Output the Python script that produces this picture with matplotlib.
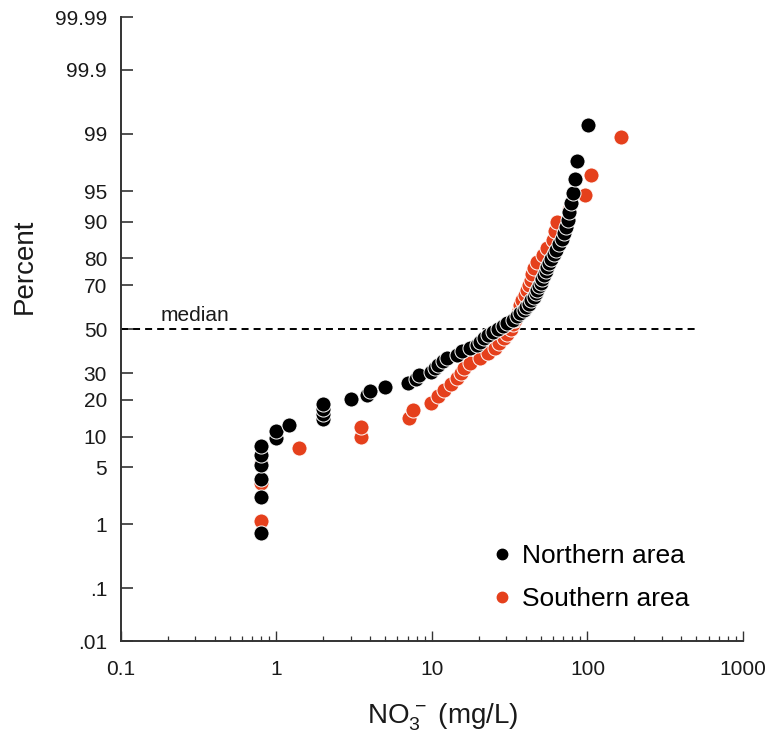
import numpy as np
import matplotlib
matplotlib.use("Agg")
import matplotlib.pyplot as plt
from matplotlib.lines import Line2D
from statistics import NormalDist

plt.rcParams['font.family'] = ['Liberation Sans', 'DejaVu Sans']
plt.rcParams['mathtext.fontset'] = 'custom'
plt.rcParams['mathtext.rm'] = 'Liberation Sans'
plt.rcParams['mathtext.it'] = 'Liberation Sans:italic'
plt.rcParams['mathtext.bf'] = 'Liberation Sans:bold'

# ---------------- data ----------------
north_x = [0.8, 0.8, 0.8, 0.8, 0.8, 0.8, 1.0, 1.0, 1.2, 2.0, 2.0, 2.0, 2.0,
           3.0, 3.8, 4.0, 5.0, 7.0, 7.9, 8.2, 9.8, 10.5, 11.0, 11.8, 12.5,
           14.5, 15.5, 17.5, 19.5, 20.5, 21.5, 23.0, 24.5, 26.5, 28.5, 30.5,
           33.0, 35.0, 37.0, 39.0, 40.5, 42.0, 43.5, 45.0, 46.5, 47.5, 48.5,
           50.0, 51.0, 52.5, 54.0, 55.0, 56.5, 58.5, 60.5, 63.0, 66.0, 68.5,
           70.5, 72.5, 74.5, 76.5, 78.0, 80.5, 83.5, 86.0, 101.0]
north_pct = [0.75, 2.24, 3.73, 5.22, 6.72, 8.21, 9.70, 11.19, 12.69, 14.18,
             15.67, 17.16, 18.66, 20.15, 21.64, 23.13, 24.63, 26.12, 27.61,
             29.10, 30.60, 32.09, 33.58, 35.07, 36.57, 38.06, 39.55, 41.04,
             42.54, 44.03, 45.52, 47.01, 48.51, 50.00, 51.49, 52.99, 54.48,
             55.97, 57.46, 58.96, 60.45, 61.94, 63.43, 64.93, 66.42, 67.91,
             69.40, 70.90, 72.39, 73.88, 75.37, 76.87, 78.36, 79.85, 81.34,
             82.84, 84.33, 85.82, 87.31, 88.81, 90.30, 91.79, 93.28, 94.78,
             96.27, 97.76, 99.25]

south_x = [0.8, 0.8, 0.8, 1.4, 3.5, 3.5, 7.1, 7.6, 9.8, 11.0,
           12.0, 13.3, 14.5, 15.3, 16.0, 17.5, 20.5, 23.0, 25.5, 27.0,
           29.0, 30.5, 32.0, 33.0, 34.0, 35.0, 36.0, 37.0, 38.0, 39.5,
           41.0, 42.0, 43.0, 44.0, 45.0, 47.0, 52.0, 55.0, 60.0, 62.0,
           64.0, 76.0, 96.5, 105.0, 165.0]
south_pct = [1.11, 3.33, 5.56, 7.78, 10.00, 12.22, 14.44, 16.67, 18.89, 21.11,
             23.33, 25.56, 27.78, 30.00, 32.22, 34.44, 36.67, 38.89, 41.11,
             43.33, 45.56, 47.78, 50.00, 52.22, 54.44, 56.67, 58.89, 61.11,
             63.33, 65.56, 67.78, 70.00, 72.22, 74.44, 76.67, 78.89, 81.11,
             83.33, 85.56, 87.78, 90.00, 92.22, 94.44, 96.67, 98.89]

y_ticks = [0.01, 0.1, 1, 5, 10, 20, 30, 50, 70, 80, 90, 95, 99, 99.9, 99.99]
y_ticklabels = ['.01', '.1', '1', '5', '10', '20', '30', '50', '70', '80',
                '90', '95', '99', '99.9', '99.99']
x_ticks = [0.1, 1, 10, 100, 1000]
x_ticklabels = ['0.1', '1', '10', '100', '1000']
series_labels = ['Northern area', 'Southern area']
median_pct = 50

# ---------------- probability scale ----------------
_nd = NormalDist()
_ppf = np.vectorize(lambda v: _nd.inv_cdf(v), otypes=[float])
_cdf = np.vectorize(lambda v: _nd.cdf(v), otypes=[float])


def _fwd(p):
    p = np.clip(np.asarray(p, dtype=float), 1e-7, 100 - 1e-7)
    return _ppf(p / 100.0)


def _inv(z):
    z = np.asarray(z, dtype=float)
    return _cdf(z) * 100.0


# ---------------- figure ----------------
fig = plt.figure(figsize=(7.73, 7.53), dpi=100)
ax = fig.add_axes([0.1565, 0.1487, 0.8047, 0.8287])

black = '#000000'
red = '#e5401c'

ax.scatter(south_x, south_pct, s=118, c=red, edgecolors='white',
           linewidths=0.7, zorder=3)
ax.scatter(north_x, north_pct, s=118, c=black, edgecolors='white',
           linewidths=0.7, zorder=4)

ax.set_xscale('log')
ax.set_yscale('function', functions=(_fwd, _inv))
ax.set_xlim(0.1, 1000)
ax.set_ylim(0.01, 99.99)

ax.set_yticks(y_ticks)
ax.set_yticklabels(y_ticklabels)
ax.yaxis.set_minor_locator(matplotlib.ticker.NullLocator())
ax.set_xticks(x_ticks)
ax.set_xticklabels(x_ticklabels)
ax.xaxis.set_minor_locator(matplotlib.ticker.LogLocator(base=10, subs=np.arange(2, 10)))
ax.xaxis.set_minor_formatter(matplotlib.ticker.NullFormatter())

axis_col = '#333333'
for s in ['top', 'right']:
    ax.spines[s].set_visible(False)
for s in ['left', 'bottom']:
    ax.spines[s].set_color(axis_col)
    ax.spines[s].set_linewidth(1.4)

ax.tick_params(axis='y', which='major', direction='in', length=8.5, width=1.2,
               color=axis_col, labelsize=15, pad=10, labelcolor='#1a1a1a')
ax.tick_params(axis='x', which='major', direction='in', length=7, width=1.0,
               color=axis_col, labelsize=15, pad=14, labelcolor='#1a1a1a')
ax.tick_params(axis='x', which='minor', direction='in', length=3.5, width=0.9,
               color=axis_col)

# median line
ax.plot([0.1, 500], [median_pct, median_pct], color='black', lw=1.4,
        ls=(0, (3.6, 2.6)), zorder=2)
ax.annotate('median', xy=(0.18, median_pct), xytext=(0, 3),
            textcoords='offset points', ha='left', va='bottom', fontsize=15,
            color='#1a1a1a')

ax.set_ylabel('Percent', fontsize=20, color='#1a1a1a', labelpad=12)
ax.yaxis.label.set_y(0.601)
ax.set_xlabel(r'NO$_3^{\,-}$ (mg/L)', fontsize=20, color='#1a1a1a', labelpad=16)
ax.xaxis.label.set_x(0.518)

handles = [Line2D([], [], ls='none', marker='o', color=black, markersize=7.5),
           Line2D([], [], ls='none', marker='o', color=red, markersize=7.5)]
ax.legend(handles, series_labels, loc='upper left',
          bbox_to_anchor=(0.60, 0.155), frameon=False, fontsize=19,
          handlelength=0.6, handletextpad=0.45, labelspacing=0.7,
          borderpad=0, borderaxespad=0)

fig.savefig('out.png', dpi=100)
